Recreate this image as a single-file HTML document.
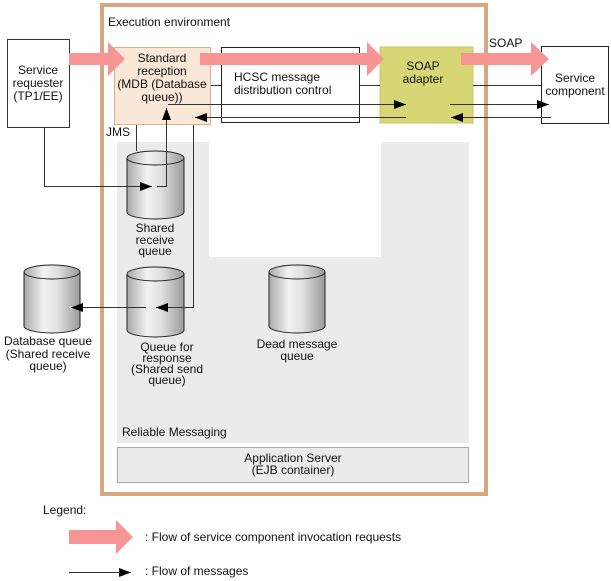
<!DOCTYPE html>
<html><head><style>
html,body{margin:0;padding:0;background:#fff;}
svg{display:block;}
text{font-family:"Liberation Sans",sans-serif;font-size:12px;fill:#111;}
</style></head><body>
<svg width="611" height="581" viewBox="0 0 611 581">
<defs>
<linearGradient id="cg" x1="0" x2="1" y1="0" y2="0">
<stop offset="0" stop-color="#a9a9a9"/><stop offset="0.35" stop-color="#f2f2f2"/><stop offset="0.6" stop-color="#e0e0e0"/><stop offset="1" stop-color="#9a9a9a"/>
</linearGradient>
<marker id="ah" markerWidth="12" markerHeight="9" refX="12" refY="4.5" orient="auto" markerUnits="userSpaceOnUse"><path d="M0,0 L12,4.5 L0,9 z" fill="#000"/></marker>
</defs>
<rect x="102" y="5" width="384" height="489" fill="#fff" stroke="#d6a67c" stroke-width="4"/>
<text x="108" y="26">Execution environment</text>
<rect x="117" y="142" width="352" height="301" fill="#ebebeb"/>
<rect x="209" y="142" width="172" height="115" fill="#fff"/>
<rect x="117.5" y="447.5" width="351" height="35" fill="#ebebeb" stroke="#aaa"/>
<text x="293" y="462" text-anchor="middle">Application Server</text>
<text x="293" y="474" text-anchor="middle">(EJB container)</text>
<text x="122" y="436">Reliable Messaging</text>
<rect x="7.5" y="39.5" width="62" height="88" fill="#fff" stroke="#333"/>
<text x="38" y="74" text-anchor="middle">Service</text>
<text x="38" y="87" text-anchor="middle">requester</text>
<text x="38" y="100" text-anchor="middle">(TP1/EE)</text>
<rect x="114.5" y="47.5" width="96" height="77" fill="#f9e7d8" stroke="#e0b08a"/>
<text x="162" y="62" text-anchor="middle">Standard</text>
<text x="162" y="75" text-anchor="middle">reception</text>
<text x="162" y="88" text-anchor="middle">(MDB (Database</text>
<text x="162" y="101" text-anchor="middle">queue))</text>
<rect x="221.5" y="47.5" width="138" height="75" fill="#fff" stroke="#222"/>
<text x="234" y="81">HCSC message</text>
<text x="234" y="94">distribution control</text>
<rect x="380" y="47" width="93" height="76" fill="#d7d675" stroke="#c8c860"/>
<text x="423" y="70" text-anchor="middle">SOAP</text>
<text x="423" y="83" text-anchor="middle">adapter</text>
<rect x="541.5" y="46.5" width="67" height="77" fill="#fff" stroke="#222"/>
<text x="575" y="82" text-anchor="middle">Service</text>
<text x="575" y="95" text-anchor="middle">component</text>
<text x="489" y="47">SOAP</text>
<g fill="#f79595">
<path d="M69,53 H108 V42 L125,59 L108,76 V65 H69 z"/>
<path d="M200,53 H367 V42 L384,59 L367,76 V65 H200 z"/>
<path d="M461,53 H531 V42 L549,59 L531,76 V65 H461 z"/>
<path d="M69,530 H116 V520 L133,537 L116,554 V544 H69 z"/>
</g>
<g stroke="#333" stroke-width="1" fill="none">
<line x1="211" y1="85.5" x2="221" y2="85.5"/>
<line x1="360" y1="85.5" x2="380" y2="85.5"/>
<line x1="473" y1="85.5" x2="541" y2="85.5"/>
<line x1="168" y1="104.5" x2="406" y2="104.5" marker-end="url(#ah)"/>
<line x1="450" y1="104.5" x2="549" y2="104.5" marker-end="url(#ah)"/>
<line x1="406" y1="117.5" x2="195" y2="117.5" marker-end="url(#ah)"/>
<line x1="551" y1="117.5" x2="451" y2="117.5" marker-end="url(#ah)"/>
<polyline points="44.5,128 44.5,186.5 152,186.5" marker-end="url(#ah)"/>
<polyline points="157,186.5 166.5,186.5 166.5,108" marker-end="url(#ah)"/>
<polyline points="193.5,125 193.5,307.5 156,307.5" marker-end="url(#ah)"/>
</g>
<text x="106" y="136">JMS</text>
<g stroke="#222" stroke-width="1" fill="url(#cg)">
<path d="M127,158 V212 A28.5,7 0 0 0 184,212 V158"/>
<ellipse cx="155.5" cy="158" rx="28.5" ry="7"/>
<path d="M127,274 V330 A28.5,7 0 0 0 184,330 V274"/>
<ellipse cx="155.5" cy="274" rx="28.5" ry="7"/>
<path d="M24,272 V326 A28,7 0 0 0 80,326 V272"/>
<ellipse cx="52" cy="272" rx="28" ry="7"/>
<path d="M269,272 V326 A28,7 0 0 0 325,326 V272"/>
<ellipse cx="297" cy="272" rx="28" ry="7"/>
</g>
<g stroke="#333" fill="none">
<line x1="136.5" y1="125" x2="136.5" y2="151"/>
<polyline points="100,186.5 152,186.5" marker-end="url(#ah)"/>
<polyline points="157,186.5 166.5,186.5 166.5,150"/>
<polyline points="184,307.5 156,307.5" marker-end="url(#ah)"/>
<line x1="146" y1="307.5" x2="71" y2="307.5" marker-end="url(#ah)"/>
</g>
<text x="155" y="232" text-anchor="middle">Shared</text>
<text x="155" y="244" text-anchor="middle">receive</text>
<text x="155" y="255" text-anchor="middle">queue</text>
<text x="48" y="345" text-anchor="middle">Database queue</text>
<text x="48" y="358" text-anchor="middle">(Shared receive</text>
<text x="48" y="370" text-anchor="middle">queue)</text>
<text x="167" y="351" text-anchor="middle">Queue for</text>
<text x="167" y="362" text-anchor="middle">response</text>
<text x="167" y="373" text-anchor="middle">(Shared send</text>
<text x="167" y="384" text-anchor="middle">queue)</text>
<text x="297" y="348" text-anchor="middle">Dead message</text>
<text x="297" y="360" text-anchor="middle">queue</text>
<text x="43" y="514">Legend:</text>
<text x="145" y="541">: Flow of service component invocation requests</text>
<line x1="69" y1="572.5" x2="131" y2="572.5" stroke="#333" marker-end="url(#ah)"/>
<text x="145" y="575">: Flow of messages</text>
</svg>
</body></html>
